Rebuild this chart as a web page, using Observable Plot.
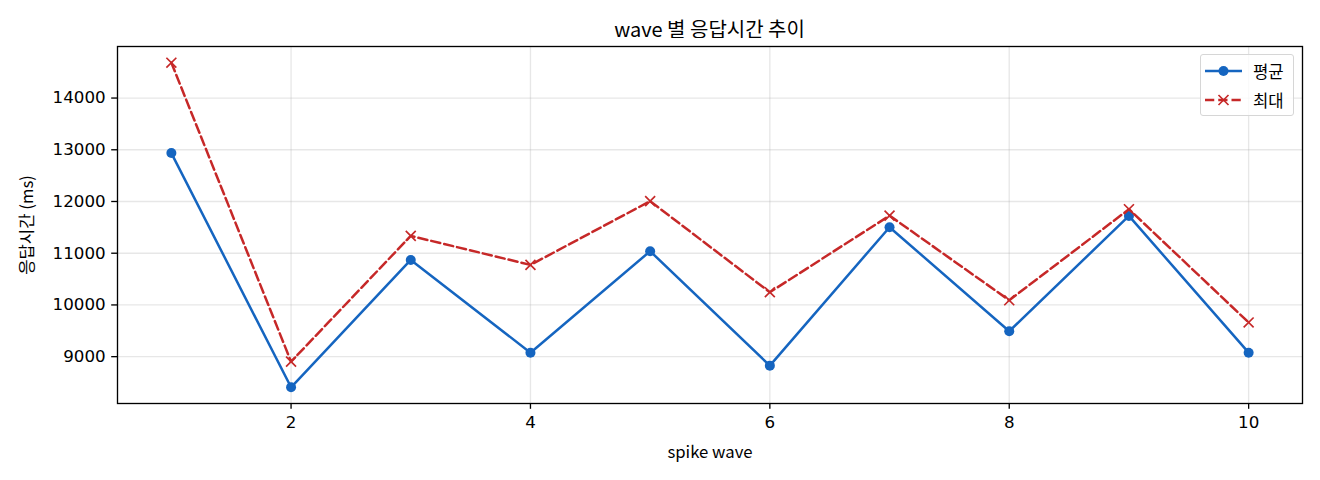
<!DOCTYPE html>
<html>
<head>
<meta charset="utf-8">
<script src="https://cdn.jsdelivr.net/npm/d3@7"></script>
<script src="https://cdn.jsdelivr.net/npm/@observablehq/plot@0.6"></script>
<style>
  html, body { margin: 0; padding: 0; background: #fff; }
  #wrap { position: relative; width: 1320px; height: 480px; font-family: "Noto Sans CJK KR", "Noto Sans", sans-serif; color: #000; }
  #title { position: absolute; top: 17px; left: 117px; width: 1185px; text-align: center; font-size: 20px; line-height: 24px; }
  #chart { position: absolute; top: 38px; left: 0; }
  #legend { position: absolute; left: 1200px; top: 54px; width: 94px; height: 62px; box-sizing: border-box; border: 1px solid #d6d6d6; border-radius: 3px; background: rgba(255,255,255,0.8); font-size: 16.7px; }
  .row { position: absolute; left: 4px; height: 20px; }
  .row svg { position: absolute; left: 0; top: 0; display: block; }
  .row span { position: absolute; left: 48px; top: 0; line-height: 20px; white-space: nowrap; }
</style>
</head>
<body>
<div id="wrap">
  <div id="title"></div>
  <div id="chart"></div>
  <div id="legend"></div>
</div>
<script>
const titleText = "wave 별 응답시간 추이";
const xLabel = "spike wave";
const yLabel = "응답시간 (ms)";
const seriesNames = ["평균", "최대"];
const waves = [1, 2, 3, 4, 5, 6, 7, 8, 9, 10];
const avgMs = [12936, 8408, 10870, 9077, 11039, 8826, 11503, 9491, 11721, 9077];
const maxMs = [14683, 8903, 11335, 10774, 12006, 10246, 11727, 10090, 11851, 9661];
const xTicks = [2, 4, 6, 8, 10];
const yTicks = [9000, 10000, 11000, 12000, 13000, 14000];

const blue = "#1565c0";
const red = "#c62828";
const cjk = '"Noto Sans CJK KR", "Noto Sans", sans-serif';
const num = '"DejaVu Sans", sans-serif';

const avgData = waves.map((w, i) => ({wave: w, ms: avgMs[i]}));
const maxData = waves.map((w, i) => ({wave: w, ms: maxMs[i]}));

function padded(vals) {
  const [lo, hi] = d3.extent(vals);
  const m = (hi - lo) * 0.05;
  return [lo - m, hi + m];
}
const xDomain = padded(waves);
const yDomain = padded(avgMs.concat(maxMs));

document.getElementById("title").textContent = titleText;

const gridStyle = {stroke: "#b0b0b0", strokeOpacity: 0.3, strokeWidth: 1.33};

const chart = Plot.plot({
  width: 1320,
  height: 442,
  marginTop: 8,
  marginBottom: 77,
  marginLeft: 117,
  marginRight: 18,
  style: {fontFamily: cjk, fontSize: "16.7px", color: "#000", background: "#fff", overflow: "visible"},
  x: {domain: xDomain},
  y: {domain: yDomain},
  marks: [
    Plot.gridX(xTicks, gridStyle),
    Plot.gridY(yTicks, gridStyle),
    Plot.line(avgData, {x: "wave", y: "ms", stroke: blue, strokeWidth: 2.5}),
    Plot.dot(avgData, {x: "wave", y: "ms", r: 5, fill: blue, stroke: "none"}),
    Plot.line(maxData, {x: "wave", y: "ms", stroke: red, strokeWidth: 2.5, strokeDasharray: "9.25,4"}),
    Plot.dot(maxData, {x: "wave", y: "ms", symbol: "times", r: 4.6, stroke: red, strokeWidth: 1.67}),
    Plot.frame({stroke: "#000", strokeWidth: 1.33}),
    Plot.axisX(xTicks, {tickSize: 5.8, tickPadding: 7, tickFormat: d => String(d), label: null, fontFamily: num, fontSize: 16.7, stroke: "#000", strokeWidth: 1.33}),
    Plot.axisY(yTicks, {tickSize: 5.8, tickPadding: 6, tickFormat: d => String(d), label: null, fontFamily: num, fontSize: 16.7, stroke: "#000", strokeWidth: 1.33}),
    Plot.text([xLabel], {frameAnchor: "bottom", text: d => d, dy: 49.5, lineAnchor: "middle", textAnchor: "middle", fontFamily: cjk, fontSize: 16.7, fill: "#000"}),
    Plot.text([yLabel], {frameAnchor: "left", text: d => d, dx: -90, rotate: -90, lineAnchor: "middle", textAnchor: "middle", fontFamily: cjk, fontSize: 16.7, fill: "#000"})
  ]
});
document.getElementById("chart").appendChild(chart);

// legend
const legend = document.getElementById("legend");
const styles = [
  {color: blue, dash: null, marker: "circle"},
  {color: red, dash: "9.25,4", marker: "times"}
];
seriesNames.forEach((name, i) => {
  const s = styles[i];
  const row = document.createElement("div");
  row.className = "row";
  row.style.top = (5.7 + i * 29.3) + "px";
  const svg = d3.create("svg").attr("width", 40).attr("height", 20);
  svg.append("line").attr("x1", 0).attr("x2", 37).attr("y1", 10).attr("y2", 10)
    .attr("stroke", s.color).attr("stroke-width", 2.5).attr("stroke-dasharray", s.dash);
  if (s.marker === "circle") {
    svg.append("circle").attr("cx", 18.5).attr("cy", 10).attr("r", 5).attr("fill", s.color);
  } else {
    svg.append("path").attr("d", "M13.5,5L23.5,15M13.5,15L23.5,5").attr("stroke", s.color).attr("stroke-width", 1.67).attr("fill", "none");
  }
  row.appendChild(svg.node());
  const t = document.createElement("span");
  t.textContent = name;
  row.appendChild(t);
  legend.appendChild(row);
});
</script>
</body>
</html>
